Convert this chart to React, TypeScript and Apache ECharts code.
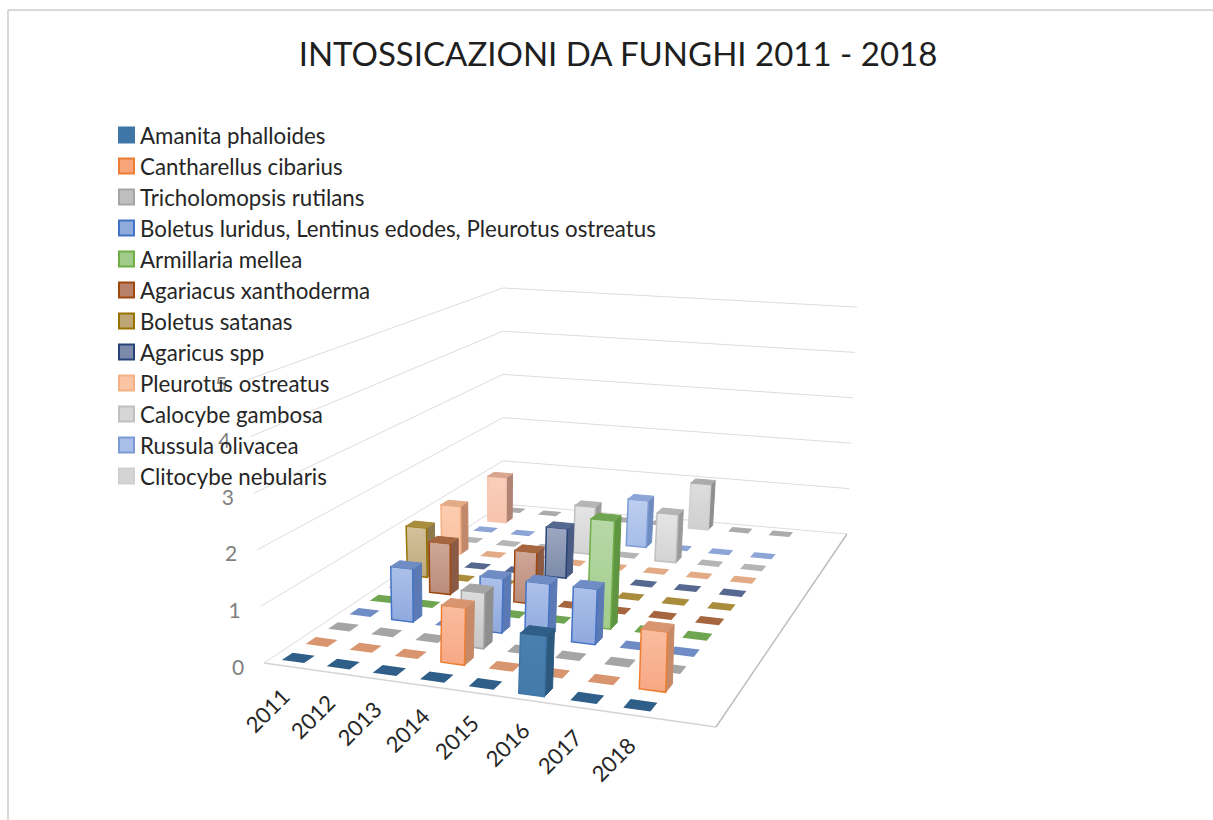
import React, { useEffect, useRef } from "react";
import * as echarts from "echarts";

const TITLE = "INTOSSICAZIONI DA FUNGHI 2011 - 2018";
const years = ["2011", "2012", "2013", "2014", "2015", "2016", "2017", "2018"];
const xCategories = [...years, ""]; // the floor has room for one empty year
const valueTicks = [0, 1, 2, 3, 4, 5];

const amanita = [0, 0, 0, 0, 0, 1, 0, 0];
const cantharellus = [0, 0, 0, 1, 0, 0, 0, 1];
const tricholomopsis = [0, 0, 0, 1, 0, 0, 0, 0];
const boletusLuridus = [0, 1, 0, 1, 1, 1, 0, 0];
const armillaria = [0, 0, 0, 0, 0, 2, 0, 0];
const agariacus = [0, 1, 0, 1, 0, 0, 0, 0];
const boletusSatanas = [1, 0, 0, 0, 0, 0, 0, 0];
const agaricus = [0, 0, 0, 1, 0, 0, 0, 0];
const pleurotus = [1, 0, 0, 0, 0, 0, 0, 0];
const calocybe = [0, 0, 0, 1, 0, 1, 0, 0];
const russula = [0, 0, 0, 0, 1, 0, 0, 0];
const unlisted = [1, null, null, null, null, null, null, null];
const clitocybe = [0, 0, 0, 0, 0, 1, 0, 0];

const rows = [
  { name: "Amanita phalloides", values: amanita, legend: true, swatch: "#3f76a8", edge: "#3f76a8", hi: "#4a7fae", lo: "#437aa9", side: "#2d597f", top: "#2f5f88" },
  { name: "Cantharellus cibarius", values: cantharellus, legend: true, swatch: "#f8a57c", edge: "#ed7d31", hi: "#f9bd9f", lo: "#f8a884", side: "#c78a68", top: "#d9956f" },
  { name: "Tricholomopsis rutilans", values: tricholomopsis, legend: true, swatch: "#bfbfbf", edge: "#a5a5a5", hi: "#dcdcdc", lo: "#c6c6c6", side: "#8e8e8e", top: "#a5a5a5" },
  { name: "Boletus luridus, Lentinus edodes, Pleurotus ostreatus", values: boletusLuridus, legend: true, swatch: "#8faadc", edge: "#4472c4", hi: "#adc1e9", lo: "#8fa9de", side: "#5a79b5", top: "#6f8cc5" },
  { name: "Armillaria mellea", values: armillaria, legend: true, swatch: "#a0cb88", edge: "#70ad47", hi: "#b7d8a7", lo: "#a3cc8c", side: "#5f9440", top: "#6fa550" },
  { name: "Agariacus xanthoderma", values: agariacus, legend: true, swatch: "#b9806a", edge: "#9e480e", hi: "#cfa899", lo: "#ba8c7a", side: "#8a5a45", top: "#a5663f" },
  { name: "Boletus satanas", values: boletusSatanas, legend: true, swatch: "#bda673", edge: "#997300", hi: "#d4c29c", lo: "#bfa97b", side: "#8c794e", top: "#a98c3c" },
  { name: "Agaricus spp", values: agaricus, legend: true, swatch: "#7c8aa9", edge: "#264478", hi: "#9ca7c0", lo: "#7c8aa9", side: "#4b5c84", top: "#55688f" },
  { name: "Pleurotus ostreatus", values: pleurotus, legend: true, swatch: "#fbc4a4", edge: "#f4b183", hi: "#fccdb2", lo: "#fbc09e", side: "#c0896b", top: "#e2aa85" },
  { name: "Calocybe gambosa", values: calocybe, legend: true, swatch: "#d6d6d6", edge: "#c0c0c0", hi: "#e5e5e5", lo: "#d3d3d3", side: "#9a9a9a", top: "#b5b5b5" },
  { name: "Russula olivacea", values: russula, legend: true, swatch: "#a9bfe9", edge: "#7c9ad6", hi: "#bdceef", lo: "#a5bde9", side: "#6f8cc0", top: "#8ca5d6" },
  { name: "(senza nome)", values: unlisted, legend: false, swatch: "#f8c9b4", edge: "#f6c6b0", hi: "#f9cfbc", lo: "#f7c3ac", side: "#b08372", top: "#d9a58e" },
  { name: "Clitocybe nebularis", values: clitocybe, legend: true, swatch: "#d4d4d4", edge: "#d0d0d0", hi: "#dedede", lo: "#cfcfcf", side: "#8f8f8f", top: "#ababab" },
];

// Camera: corners of the floor and of the plane at the top of the value axis, in the order FL, FR, BR, BL.
const floorQuad = [[264, 663], [716, 727], [847, 534], [503, 504]];
const topQuad = [[247, 380], [722, 407], [857, 307], [503, 288]];

function homography(q: number[][]) {
  const [p0, p1, p2, p3] = q;
  const dx1 = p1[0] - p2[0], dx2 = p3[0] - p2[0];
  const dy1 = p1[1] - p2[1], dy2 = p3[1] - p2[1];
  const sx = p0[0] - p1[0] + p2[0] - p3[0];
  const sy = p0[1] - p1[1] + p2[1] - p3[1];
  const den = dx1 * dy2 - dx2 * dy1;
  const g = (sx * dy2 - dx2 * sy) / den;
  const h = (dx1 * sy - sx * dy1) / den;
  const a = p1[0] - p0[0] + g * p1[0], b = p3[0] - p0[0] + h * p3[0];
  const d = p1[1] - p0[1] + g * p1[1], e = p3[1] - p0[1] + h * p3[1];
  return (u: number, v: number) => {
    const w = g * u + h * v + 1;
    return [(a * u + b * v + p0[0]) / w, (d * u + e * v + p0[1]) / w];
  };
}
const floorMap = homography(floorQuad);
const topMap = homography(topQuad);
const maxValue = valueTicks[valueTicks.length - 1];

function project(u: number, v: number, value: number): number[] {
  const z = value / maxValue;
  const a = floorMap(u, v), b = topMap(u, v);
  return [a[0] + (b[0] - a[0]) * z, a[1] + (b[1] - a[1]) * z];
}

const BAR_U = 0.5;
const BAR_V = 0.45;
const FONT = "Lato, 'Open Sans', sans-serif";

function planeOf(params: any, api: any, xi: number, yi: number) {
  const cs = params.coordSys;
  const p = api.coord([xi, yi]);
  const band = api.size([1, 1]);
  return {
    u: (p[0] - cs.x) / cs.width,
    v: 1 - (p[1] - cs.y) / cs.height,
    du: band[0] / cs.width,
    dv: band[1] / cs.height,
  };
}

function barSeries(row: (typeof rows)[number]) {
  const data: number[][] = [];
  row.values.forEach((val, i) => {
    if (val !== null) data.push([i, rows.indexOf(row), val]);
  });
  const front = new echarts.graphic.LinearGradient(0, 0, 0, 1, [
    { offset: 0, color: row.hi },
    { offset: 1, color: row.lo },
  ]);
  return {
    type: "custom",
    name: row.name,
    coordinateSystem: "cartesian2d",
    silent: true,
    clip: false,
    itemStyle: { color: row.swatch },
    data,
    renderItem(params: any, api: any) {
      const p = planeOf(params, api, api.value(0), api.value(1));
      const val = api.value(2);
      const u0 = p.u - (p.du * BAR_U) / 2, u1 = p.u + (p.du * BAR_U) / 2;
      const v0 = p.v - (p.dv * BAR_V) / 2, v1 = p.v + (p.dv * BAR_V) / 2;
      const topFace = [project(u0, v0, val), project(u1, v0, val), project(u1, v1, val), project(u0, v1, val)];
      const children: any[] = [];
      if (val > 0) {
        children.push({
          type: "polygon",
          shape: { points: [project(u1, v0, 0), project(u1, v1, 0), project(u1, v1, val), project(u1, v0, val)] },
          style: { fill: row.side, stroke: row.side, lineWidth: 1 },
        });
        children.push({
          type: "polygon",
          shape: { points: [project(u0, v0, 0), project(u1, v0, 0), project(u1, v0, val), project(u0, v0, val)] },
          style: { fill: front, stroke: row.edge, lineWidth: 1.5 },
        });
      }
      children.push({
        type: "polygon",
        shape: { points: topFace },
        style: { fill: row.top, stroke: val > 0 ? row.top : "none", lineWidth: 1 },
      });
      return { type: "group", children };
    },
  };
}

const wallSeries = {
  type: "custom",
  name: "walls",
  coordinateSystem: "cartesian2d",
  silent: true,
  clip: false,
  data: valueTicks.map((t) => [0, 0, t]),
  renderItem(_: any, api: any) {
    const t = api.value(2);
    const a = project(0, 0, t), b = project(0, 1, t), c = project(1, 1, t);
    const children: any[] = [
      { type: "polyline", shape: { points: [a, b, c] }, style: { fill: "none", stroke: "#dcdcdc", lineWidth: 1 } },
      {
        type: "text",
        x: a[0] - 26,
        y: a[1] + 3,
        style: { text: String(t), align: "center", verticalAlign: "middle", fontSize: 21, fontFamily: FONT, fill: "#7f7f7f" },
      },
    ];
    if (t === 0) {
      const d = project(1, 0, 0);
      children.push({ type: "line", shape: { x1: a[0], y1: a[1], x2: d[0], y2: d[1] }, style: { stroke: "#d4d4d4", lineWidth: 1.5 } });
      children.push({ type: "line", shape: { x1: d[0], y1: d[1], x2: c[0], y2: c[1] }, style: { stroke: "#bdbdbd", lineWidth: 1.5 } });
    }
    return { type: "group", children };
  },
};

const yearSeries = {
  type: "custom",
  name: "years",
  coordinateSystem: "cartesian2d",
  silent: true,
  clip: false,
  data: years.map((_, i) => [i, 0]),
  renderItem(params: any, api: any) {
    const i = api.value(0);
    const p = planeOf(params, api, i, 0);
    const a = project(p.u, 0, 0);
    return {
      type: "text",
      x: a[0] - 19,
      y: a[1] + 44,
      rotation: Math.PI / 4,
      style: { text: years[i], align: "center", verticalAlign: "middle", fontSize: 22, fontFamily: FONT, fill: "#262626" },
    };
  },
};

export default function App() {
  const ref = useRef<HTMLDivElement>(null);
  useEffect(() => {
    document.body.style.margin = "0";
    const chart = echarts.init(ref.current!, null, { renderer: "svg" });
    chart.setOption({
      animation: false,
      backgroundColor: "#ffffff",
      title: {
        text: TITLE,
        left: 613,
        top: 31,
        textAlign: "center",
        textStyle: { fontFamily: FONT, fontSize: 33, fontWeight: "normal", color: "#1f1f1f" },
      },
      legend: {
        orient: "vertical",
        left: 118,
        top: 119.5,
        padding: 0,
        selectedMode: false,
        itemWidth: 15,
        itemHeight: 15,
        itemGap: 0,
        textStyle: { fontFamily: FONT, fontSize: 22.3, color: "#262626", lineHeight: 31, padding: [0, 0, 0, 1] },
        data: rows.filter((r) => r.legend).map((r) => ({
          name: r.name,
          icon: "rect",
          itemStyle: { color: r.swatch, borderColor: r.edge, borderWidth: 2 },
        })),
      },
      grid: { left: 0, top: 0, width: 900, height: 780, show: false },
      xAxis: { type: "category", data: xCategories, show: false },
      yAxis: { type: "category", data: rows.map((r) => r.name), show: false },
      graphic: [
        { type: "line", shape: { x1: 8, y1: 10, x2: 1213, y2: 10 }, style: { stroke: "#d9d9d9", lineWidth: 2 } },
        { type: "line", shape: { x1: 8, y1: 10, x2: 8, y2: 820 }, style: { stroke: "#d9d9d9", lineWidth: 2 } },
      ],
      series: [wallSeries, yearSeries, ...[...rows].reverse().map(barSeries)],
    });
    return () => chart.dispose();
  }, []);
  return <div ref={ref} style={{ position: "absolute", left: 0, top: 0, width: 1213, height: 820 }} />;
}
